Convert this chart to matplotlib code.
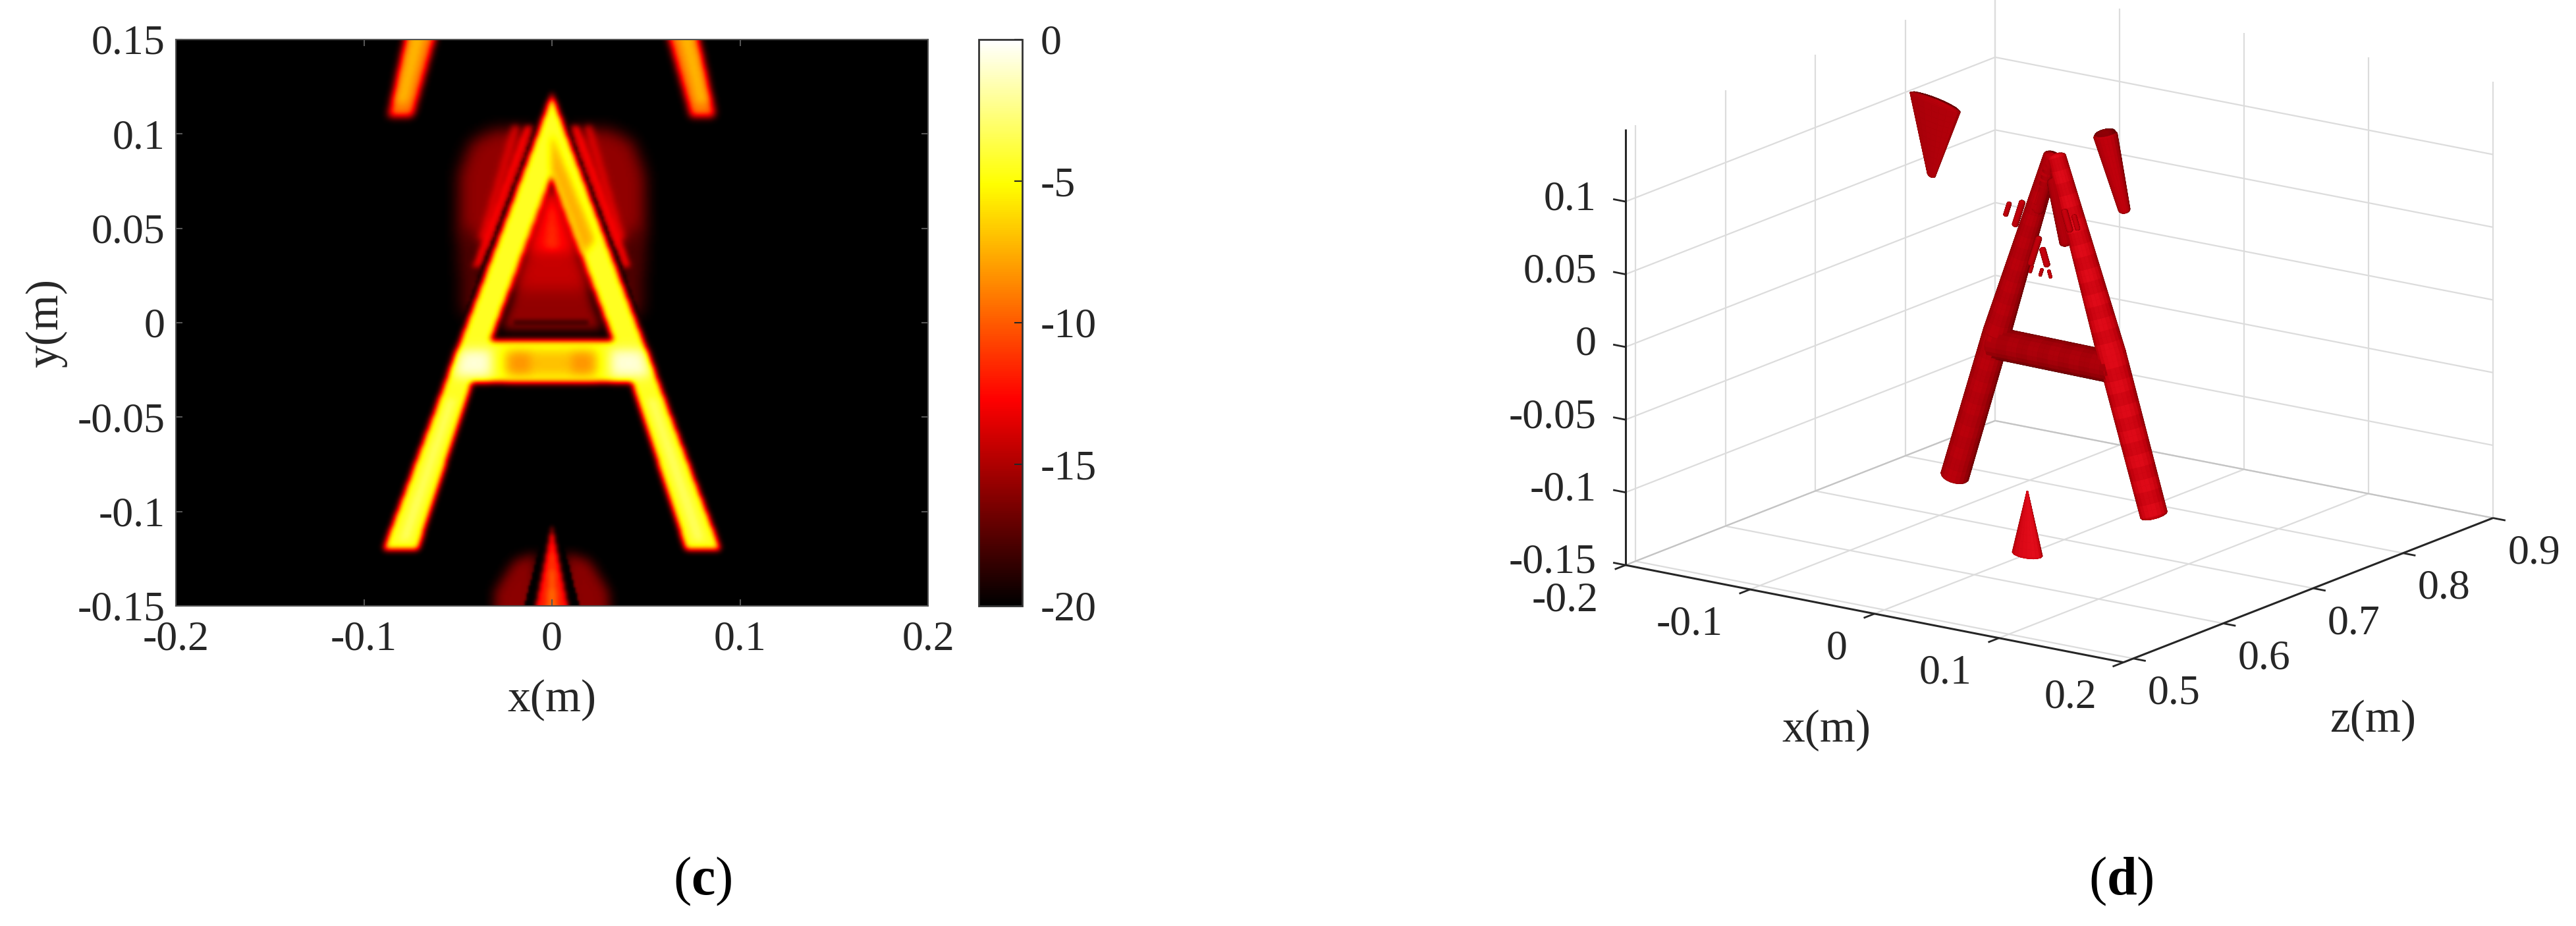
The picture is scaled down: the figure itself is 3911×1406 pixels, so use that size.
import numpy as np
import matplotlib
matplotlib.use('Agg')
import matplotlib.pyplot as plt
from matplotlib.path import Path
from matplotlib.colors import LinearSegmentedColormap
from mpl_toolkits.mplot3d import proj3d
from mpl_toolkits.mplot3d.art3d import Poly3DCollection

W, H = 3911, 1406
plt.rcParams['font.family'] = ['Liberation Serif', 'DejaVu Serif']
plt.rcParams['mathtext.fontset'] = 'custom'
plt.rcParams['mathtext.rm'] = 'Liberation Serif'
plt.rcParams['mathtext.bf'] = 'Liberation Serif:bold'
FS = 46
FS_LABEL = 50

# panel (c) ticks
c_xticks = [-0.2, -0.1, 0, 0.1, 0.2]
c_xlabels = ['-0.2', '-0.1', '0', '0.1', '0.2']
c_yticks = [-0.15, -0.1, -0.05, 0, 0.05, 0.1, 0.15]
c_ylabels = ['-0.15', '-0.1', '-0.05', '0', '0.05', '0.1', '0.15']
cb_ticks = [-20, -15, -10, -5, 0]
cb_labels = ['-20', '-15', '-10', '-5', '0']

# panel (c) regions, left half only where mirrored: (x, y) in metres
a_outer = [(0, 0.1215), (0.09, -0.1207), (-0.09, -0.1207)]
a_hole_top = [(0, 0.078), (0.0325, -0.0093), (-0.0325, -0.0093)]
a_hole_low = [(-0.0425, -0.0314), (0.0425, -0.0314), (0.0745, -0.13), (-0.0745, -0.13)]
ghost_leg = [(-0.074, 0.17), (-0.057, 0.17), (-0.074, 0.11), (-0.087, 0.11)]
ghost_core = [(-0.071, 0.17), (-0.063, 0.17), (-0.077, 0.117), (-0.083, 0.117)]
shoulder = [(-0.05, 0.05), (-0.049, 0.08), (-0.043, 0.096), (-0.03, 0.103), (-0.012, 0.103),
            (0, 0.09), (-0.02, 0.03), (-0.042, 0.04)]
shoulder_low = [(-0.05, 0.05), (-0.042, 0.05), (-0.03, 0.0), (-0.048, 0.005)]
streak_a = [(-0.021, 0.105), (-0.017, 0.105), (-0.035, 0.045), (-0.039, 0.045)]
streak_b = [(-0.0141, 0.105), (-0.0101, 0.105), (-0.038, 0.03), (-0.042, 0.03)]
black_outer = [(0, 0.127), (0.0505, -0.005), (-0.0505, -0.005)]
inner_base = [(0, 0.072), (0.0265, -0.003), (-0.0265, -0.003)]
inner_mid = [(0, 0.072), (0.02, 0.018), (-0.02, 0.018)]
inner_top = [(0, 0.072), (0.012, 0.038), (-0.012, 0.038)]
inner_streak = [(0, 0.068), (0.0035, 0.04), (-0.0035, 0.04)]
inner_band = [(-0.02, 0.002), (0.02, 0.002), (0.02, -0.001), (-0.02, -0.001)]
bar_white = [(-0.048, -0.014), (-0.032, -0.014), (-0.032, -0.028), (-0.052, -0.028)]
bar_wide = [(-0.025, -0.014), (0.025, -0.014), (0.025, -0.028), (-0.025, -0.028)]
bar_orange = [(-0.022, -0.016), (-0.011, -0.016), (-0.011, -0.026), (-0.022, -0.026)]
apex_ridge = [(0, 0.1), (0.023, 0.044), (0.017, 0.036), (0, 0.08)]
foot_core = [(-0.081, -0.115), (-0.076, -0.115), (-0.051, -0.04), (-0.055, -0.04)]
low_glow = [(-0.032, -0.17), (-0.03, -0.142), (-0.02, -0.126), (-0.008, -0.122), (-0.008, -0.17)]
low_black = [(0, -0.095), (0.02, -0.17), (-0.02, -0.17)]
low_red = [(0, -0.108), (0.0125, -0.17), (-0.0125, -0.17)]
low_core = [(0, -0.122), (0.005, -0.17), (-0.005, -0.17)]

# polygon, dB level, blur (m), mirrored
layers = [
    (shoulder, -15.8, 0.004, True),
    (shoulder_low, -17.5, 0.004, True),
    (streak_a, -13.5, 0.0016, True),
    (streak_b, -12.5, 0.0014, True),
    (black_outer, -20, 0.0007, False),
    (a_hole_top, -20, 0.0007, False),
    (inner_base, -15.8, 0.0025, False),
    (inner_mid, -14.3, 0.004, False),
    (inner_top, -12.6, 0.003, False),
    (inner_streak, -11.4, 0.002, False),
    (inner_band, -18, 0.001, False),
]
upper_layers = [
    (foot_core, -3.2, 0.0016, True),
    (apex_ridge, -7.5, 0.002, False),
    (bar_white, -0.8, 0.0028, True),
    (bar_wide, -7.0, 0.003, False),
    (bar_orange, -8.3, 0.0025, True),
    (ghost_leg, -9, 0.002, True),
    (ghost_core, -7.2, 0.002, True),
    (low_glow, -16, 0.003, True),
    (low_black, -20, 0.0006, False),
    (low_red, -12, 0.0012, False),
    (low_core, -9.5, 0.0016, False),
]

# panel (d) ticks
d_xticks = [-0.2, -0.1, 0, 0.1, 0.2]
d_xlabels = ['-0.2', '-0.1', '0', '0.1', '0.2']
d_yticks = [-0.15, -0.1, -0.05, 0, 0.05, 0.1]
d_ylabels = ['-0.15', '-0.1', '-0.05', '0', '0.05', '0.1']
d_zticks = [0.5, 0.6, 0.7, 0.8, 0.9]
d_zlabels = ['0.5', '0.6', '0.7', '0.8', '0.9']
d_zlow = 0.489

# isosurface parts, (x, z, y) in metres: start, end, r start, r end, flatten, tone, ripple
z_a = 0.689
iso_tubes = [
    ((-0.08, z_a, -0.117), (-0.046, z_a, -0.012), 0.0094, 0.0092, 1.0, 0.62, 0.03),
    ((-0.046, z_a, -0.012), (-0.002, z_a, 0.116), 0.0092, 0.0056, 1.0, 0.62, 0.03),
    ((0.08, z_a, -0.117), (0.046, z_a, -0.012), 0.009, 0.0094, 1.0, 0.86, 0.07),
    ((0.046, z_a, -0.012), (0.002, z_a, 0.116), 0.0094, 0.006, 1.0, 0.86, 0.07),
    ((-0.048, z_a, -0.02), (0.048, z_a, -0.021), 0.0105, 0.0105, 1.0, 0.5, 0.04),
    ((-0.012, z_a - 0.002, 0.078), (-0.002, z_a - 0.002, 0.11), 0.004, 0.004, 1.0, 0.55, 0),
    ((0.012, z_a - 0.004, 0.06), (0.002, z_a - 0.004, 0.1), 0.004, 0.004, 1.0, 0.55, 0),
    ((-0.0705, 0.654, 0.15), (-0.08, 0.663, 0.097), 0.0205, 0.0035, 0.2, 0.62, 0),
    ((0.07, 0.649, 0.152), (0.08, 0.656, 0.101), 0.0085, 0.0042, 0.8, 0.66, 0),
    ((0.0695, 0.649, 0.1535), (0.07, 0.649, 0.152), 0.0075, 0.0075, 0.8, 0.32, 0),
    ((0, 0.659, -0.15), (0, 0.659, -0.107), 0.0115, 0.0005, 0.5, 1.0, 0),
]
fleck_x = [-0.029, -0.02, 0.026, 0.019, 0.001, -0.007, -0.002, 0.005, -0.01]
fleck_y = [0.078, 0.0765, 0.078, 0.078, 0.05, 0.053, 0.039, 0.039, 0.04]
fleck_h = [0.004, 0.008, 0.004, 0.006, 0.005, 0.009, 0.002, 0.002, 0.002]
fleck_w = [0.0015, 0.002, 0.0015, 0.002, 0.002, 0.002, 0.001, 0.001, 0.001]


def fig_rect(left, top, right, bottom):
    return [left / W, 1 - bottom / H, (right - left) / W, (bottom - top) / H]


# raster for panel (c), padded so that the blur does not wrap into the view
gx = np.arange(-0.26, 0.26, 0.001)
gy = np.arange(-0.21, 0.21, 0.001)
GX, GY = np.meshgrid(gx, gy)
points = np.column_stack([GX.ravel(), GY.ravel()])


def poly_mask(poly):
    return Path(poly + [poly[0]]).contains_points(points).reshape(GX.shape).astype(float)


def blur(mask, sigma):
    fy = np.fft.fftfreq(mask.shape[0], 0.001)
    fx = np.fft.fftfreq(mask.shape[1], 0.001)
    kernel = np.exp(-2 * (np.pi * sigma) ** 2 * (fx[None, :] ** 2 + fy[:, None] ** 2))
    return np.real(np.fft.ifft2(np.fft.fft2(mask) * kernel))


def paint(field, stack):
    for poly, level, sigma, mirrored in stack:
        mask = poly_mask(poly)
        if mirrored:
            mask = np.maximum(mask, poly_mask([(-x, y) for x, y in poly]))
        soft = np.clip(blur(mask, sigma), 0, 1)
        field = field * (1 - soft) + level * soft
    return field


field = paint(np.full(GX.shape, -20.0), layers)
body = poly_mask(a_outer) * (1 - poly_mask(a_hole_top)) * (1 - poly_mask(a_hole_low))
soft = np.clip(blur(body, 0.0016), 0, 1)
field = field * (1 - soft) - 4.4 * soft
field = paint(field, upper_layers)

hot_cmap = LinearSegmentedColormap.from_list(
    'hot_black', [(0, 'black'), (0.365, '#ff0000'), (0.746, '#ffff00'), (1, 'white')], N=256)

fig = plt.figure(figsize=(W / 100, H / 100), dpi=100)

ax = fig.add_axes(fig_rect(267, 60, 1409, 920))
im = ax.imshow(field, extent=[gx[0], gx[-1], gy[0], gy[-1]], origin='lower', cmap=hot_cmap,
               vmin=-20, vmax=0, aspect='auto', interpolation='bilinear')
ax.set_xlim(-0.2, 0.2)
ax.set_ylim(-0.15, 0.15)
ax.set_xticks(c_xticks, c_xlabels)
ax.set_yticks(c_yticks, c_ylabels)
ax.tick_params(direction='in', length=7, width=1.5, color='#555555', labelsize=FS,
               labelcolor='#262626', pad=12, top=True, right=True)
ax.tick_params(axis='x', pad=16)
for s in ax.spines.values():
    s.set_color('#555555')
    s.set_linewidth(1.5)
fig.text(838 / W, 1 - 1063 / H, 'x(m)', fontsize=FS_LABEL, color='#262626', ha='center', va='center')
fig.text(70 / W, 1 - 491 / H, 'y(m)', fontsize=FS_LABEL, color='#262626', ha='center', va='center',
         rotation=90)

cax = fig.add_axes(fig_rect(1486, 60, 1552, 920))
cb = fig.colorbar(im, cax=cax)
cb.set_ticks(cb_ticks, labels=cb_labels)
cb.ax.tick_params(direction='in', length=9, width=1.5, color='#262626', labelsize=FS,
                  labelcolor='#262626', pad=20)
cb.outline.set_edgecolor('#333333')
cb.outline.set_linewidth(2)

fig.text(1067 / W, 1 - 1338 / H, r'($\mathbf{c}$)', fontsize=59, color='black', ha='center', va='center')
fig.text(3220 / W, 1 - 1338 / H, r'($\mathbf{d}$)', fontsize=59, color='black', ha='center', va='center')

# panel (d): real 3D axes, orthographic, axis lines drawn by hand to follow MATLAB's box
ax3 = fig.add_axes([0.55, 0.0, 0.4, 1.0], projection='3d', computed_zorder=False)
ax3.set_proj_type('ortho')
ax3.set_box_aspect((927, 973, 690))
ax3.view_init(elev=16.04, azim=-54.73)
ax3.set_xlim(-0.2, 0.2, view_margin=0)
ax3.set_ylim(d_zlow, 0.9, view_margin=0)
ax3.set_zlim(-0.15, 0.15, view_margin=0)
ax3.set_axis_off()
ax3.patch.set_alpha(0)


def project(x, z, y):
    u, v, _ = proj3d.proj_transform(x, z, y, ax3.get_proj())
    return u, v


# size and place the square axes so that two box corners land where they are in the reference
lim = ax3.viewLim
ua, va = project(-0.2, d_zlow, -0.15)
uc, vc = project(0.2, 0.9, -0.15)
side = (3785 - 2468) / ((uc - ua) / lim.width)
left = 2468 - side * (ua - lim.x0) / lim.width
bottom = (H - 858) - side * (va - lim.y0) / lim.height
ax3.set_position([left / W, bottom / H, side / W, side / H])
ax3.apply_aspect()

GRID = '#dcdcdc'
EDGE = '#c4c4c4'
AXIS = '#262626'


def line3(x, z, y, color=GRID, lw=1.6, zorder=1):
    ax3.plot(x, z, y, color=color, lw=lw, zorder=zorder, solid_capstyle='butt')


for t in d_xticks:
    line3([t, t], [d_zlow, 0.9], [-0.15, -0.15])
    line3([t, t], [0.9, 0.9], [-0.15, 0.15])
for t in d_zticks:
    line3([-0.2, 0.2], [t, t], [-0.15, -0.15])
    line3([-0.2, -0.2], [t, t], [-0.15, 0.15])
for t in d_yticks[1:]:
    line3([-0.2, -0.2], [d_zlow, 0.9], [t, t])
    line3([-0.2, 0.2], [0.9, 0.9], [t, t])
line3([-0.2, -0.2], [d_zlow, 0.9], [-0.15, -0.15], color=EDGE)
line3([-0.2, 0.2], [0.9, 0.9], [-0.15, -0.15], color=EDGE)

line3([-0.2, -0.2], [d_zlow, d_zlow], [-0.15, 0.15], color=AXIS, lw=2.2, zorder=3)
line3([-0.2, 0.2], [d_zlow, d_zlow], [-0.15, -0.15], color=AXIS, lw=2.2, zorder=3)
line3([0.2, 0.2], [d_zlow, 0.9], [-0.15, -0.15], color=AXIS, lw=2.2, zorder=3)
for t in d_xticks:
    line3([t, t], [d_zlow, d_zlow - 0.012], [-0.15, -0.15], color=AXIS, lw=2, zorder=3)
for t in d_yticks:
    line3([-0.2, -0.21], [d_zlow, d_zlow], [t, t], color=AXIS, lw=2, zorder=3)
for t in d_zticks:
    line3([0.2, 0.21], [t, t], [-0.15, -0.15], color=AXIS, lw=2, zorder=3)


def label3(text, x, z, y, dx, dy, ha='center'):
    ax3.annotate(text, project(x, z, y), xytext=(dx, dy), textcoords='offset pixels', ha=ha, va='center',
                 fontsize=FS, color='#262626', annotation_clip=False)


for t, s in zip(d_yticks, d_ylabels):
    label3(s, -0.2, d_zlow, t, -44, 3, ha='right')
for t, s in zip(d_xticks, d_xlabels):
    label3(s, t, d_zlow, -0.15, -41, -54, ha='right')
for t, s in zip(d_zticks, d_zlabels):
    label3(s, 0.2, t, -0.15, 62, -54)
fig.text(2773 / W, 1 - 1109 / H, 'x(m)', fontsize=FS_LABEL, color='#262626', ha='center', va='center')
fig.text(3603 / W, 1 - 1094 / H, 'z(m)', fontsize=FS_LABEL, color='#262626', ha='center', va='center')

iso_cmap = LinearSegmentedColormap.from_list('iso', ['#3e0000', '#8c0006', '#c0000c', '#e00a18', '#f42030'])
light = np.array([0.35, -0.8, 0.45])
light = light / np.linalg.norm(light)
quads = []
shades = []


def add_tube(p0, p1, r0, r1, flat, tone, ripple=0):
    p0, p1 = np.array(p0, float), np.array(p1, float)
    u = (p1 - p0) / np.linalg.norm(p1 - p0)
    v1 = np.cross(u, [0, 1, 0])
    v1 = v1 / np.linalg.norm(v1)
    v2 = np.cross(u, v1)
    phi = np.linspace(0, 2 * np.pi, 21)
    centres, radii, axial = [], [], []
    for a in np.linspace(np.pi / 2, 0, 5):
        centres.append(p0 - u * min(r0 * 0.7, 0.0025) * np.sin(a))
        radii.append(r0 * np.cos(a) + 1e-5)
        axial.append(-np.sin(a))
    n_mid = max(int(np.linalg.norm(p1 - p0) / 0.004), 6)
    for s in np.linspace(0, 1, n_mid)[1:-1]:
        centres.append(p0 + (p1 - p0) * s)
        radii.append(r0 + (r1 - r0) * s)
        axial.append(0)
    for a in np.linspace(0, np.pi / 2, 5):
        centres.append(p1 + u * min(r1 * 0.7, 0.0025) * np.sin(a))
        radii.append(r1 * np.cos(a) + 1e-5)
        axial.append(np.sin(a))
    rings = np.zeros((len(centres), len(phi), 3))
    normals = np.zeros_like(rings)
    for i, (c, r, ax_n) in enumerate(zip(centres, radii, axial)):
        for j, f in enumerate(phi):
            rings[i, j] = c + r * (np.cos(f) * v1 + flat * np.sin(f) * v2)
            n = np.cos(f) * v1 + np.sin(f) * v2 / flat + ax_n * u
            normals[i, j] = n / np.linalg.norm(n)
    for i in range(len(rings) - 1):
        band = 1 + ripple * (1 if i % 4 < 2 else -1)
        for j in range(len(phi) - 1):
            quads.append([rings[i, j], rings[i, j + 1], rings[i + 1, j + 1], rings[i + 1, j]])
            n = normals[i, j] + normals[i, j + 1] + normals[i + 1, j]
            n = n / (np.linalg.norm(n) + 1e-9)
            shades.append(band * tone * (0.22 + 0.62 * max(n @ light, 0)))


for part in iso_tubes:
    add_tube(*part)
for fx, fy, fh, fw in zip(fleck_x, fleck_y, fleck_h, fleck_w):
    lean = -0.35 * fh * np.sign(fx)
    add_tube((fx - lean, z_a - 0.012, fy - fh), (fx + lean, z_a - 0.012, fy + fh), fw, fw, 1.0, 0.7)

colors = iso_cmap(np.clip(shades, 0, 1))
mesh = Poly3DCollection(quads, facecolors=colors, edgecolors=colors, linewidths=0.4, zsort='average', zorder=2)
ax3.add_collection3d(mesh)

fig.savefig('out.png', dpi=100, facecolor='white')
